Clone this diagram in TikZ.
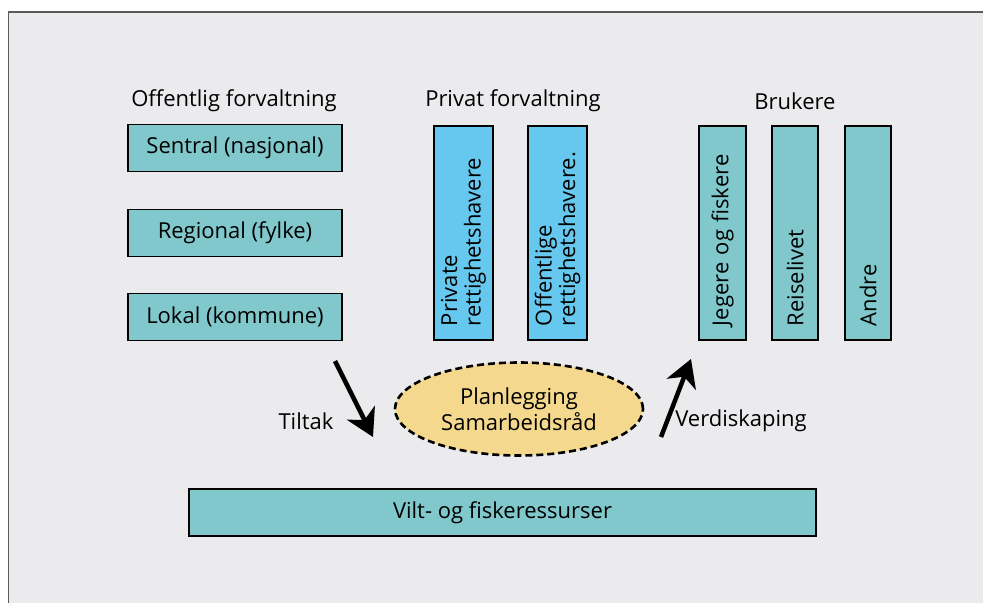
\documentclass[tikz,border=0pt]{standalone}
\usepackage{fontspec}
\setmainfont{Open Sans}
\usetikzlibrary{arrows.meta,shapes.geometric}
\definecolor{fondo}{RGB}{235,235,238}
\definecolor{marco}{RGB}{90,90,90}
\definecolor{verde}{RGB}{128,200,204}
\definecolor{azul}{RGB}{102,200,238}
\definecolor{amarillo}{RGB}{243,216,142}
\tikzset{
  caja/.style={draw=black,line width=1.3pt,fill=verde,inner sep=0pt},
  stolpe/.style={caja,rotate=90,minimum width=214pt,align=left,
    text width=186pt,inner xsep=14pt},
  flecha/.style={line width=4.5pt,-{Stealth[length=27pt,width=31pt,inset=8pt]}}
}
\begin{document}
\begin{tikzpicture}[x=1pt,y=-1pt,font=\fontsize{22}{23.5}\selectfont]
   \useasboundingbox (0,0) rectangle (983,603);
   \fill[white] (0,0) rectangle (983,603);
   \fill[fondo] (8.5,12) rectangle (983,603);
   \draw[color=marco,line width=1.5pt] (8.5,603) -- (8.5,12) -- (983,12);
   % offentlig forvaltning
   \node (offentlig) at (234,101) {Offentlig forvaltning};
   \node[caja,minimum width=214pt,minimum height=47pt] (sentral)
     at (235,148) {Sentral (nasjonal)};
   \node[caja,minimum width=214pt,minimum height=47pt] (regional)
     at (235,233) {Regional (fylke)};
   \node[caja,minimum width=214pt,minimum height=47pt] (lokal)
     at (235,317) {Lokal (kommune)};
   % privat forvaltning
   \node (privat) at (513,101) {Privat forvaltning};
   \node[stolpe,fill=azul,minimum height=59pt] (private)
     at (463.5,233) {Private\\rettighetshavere};
   \node[stolpe,fill=azul,minimum height=59pt] (offentlige)
     at (557.5,233) {Offentlige\\rettighetshavere.};
   % brukere
   \node (brukere) at (795,101) {Brukere};
   \node[stolpe,minimum height=47pt] (jegere) at (722.5,233) {Jegere og fiskere};
   \node[stolpe,minimum height=46pt] (reiseliv) at (795,233) {Reiselivet};
   \node[stolpe,minimum height=46pt] (andre) at (868,233) {Andre};
   % midten
   \node[ellipse,draw,dash pattern=on 7pt off 4pt,line width=2.6pt,fill=amarillo,
     minimum width=248pt,minimum height=93pt,align=center,inner sep=0pt,
     font=\fontsize{22}{26}\selectfont]
     (plan) at (519,409) {Planlegging\\Samarbeidsråd};
   \node[caja,minimum width=627pt,minimum height=47pt] (ressurser)
     at (502.5,512.5) {Vilt- og fiskeressurser};
   % piler
   \coordinate (t1) at (335,361);
   \coordinate (t2) at (373,437);
   \coordinate (v1) at (661,437);
   \coordinate (v2) at (691,359);
   \draw[flecha] (t1) -- (t2);
   \draw[flecha] (v1) -- (v2);
   \node (tiltak) at (306,421) {Tiltak};
   \node (verdi) at (741,421) {Verdiskaping};
\end{tikzpicture}
\end{document}
